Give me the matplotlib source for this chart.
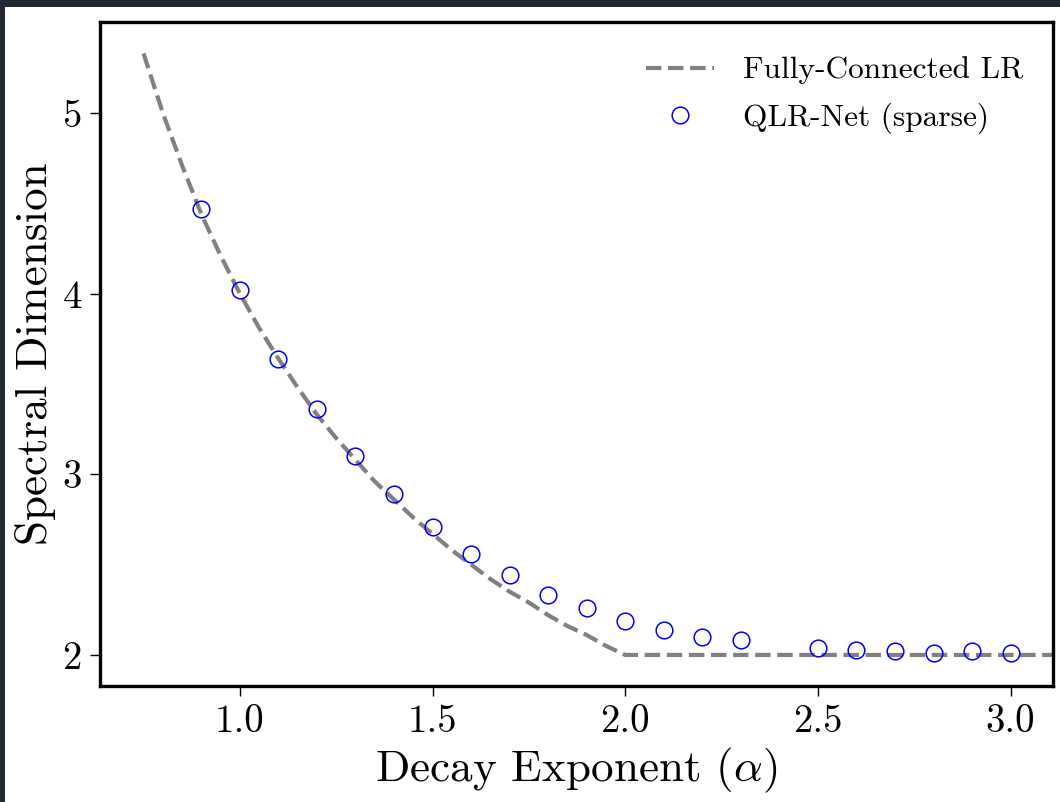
"""Spectral dimension vs. decay exponent: fully-connected long-range model and sparse QLR-Net."""

import matplotlib
matplotlib.use("Agg")
import matplotlib.pyplot as plt
from matplotlib.patches import Rectangle

# --- Fully-connected long-range curve ---
alpha_fc = [0.75, 0.80, 0.85, 0.90, 0.95, 1.00, 1.05, 1.10, 1.15, 1.20,
            1.25, 1.30, 1.35, 1.40, 1.45, 1.50, 1.55, 1.60, 1.65, 1.70,
            1.75, 1.80, 1.85, 1.90, 1.95, 2.00, 3.20]
ds_fc = [5.33, 5.00, 4.71, 4.44, 4.21, 4.00, 3.81, 3.64, 3.48, 3.33,
         3.20, 3.08, 2.96, 2.86, 2.76, 2.67, 2.58, 2.50, 2.42, 2.35,
         2.29, 2.22, 2.16, 2.11, 2.05, 2.00, 2.00]

# --- QLR-Net (sparse) measurements ---
alpha_qlr = [0.9, 1.0, 1.1, 1.2, 1.3, 1.4, 1.5, 1.6, 1.7, 1.8, 1.9,
             2.0, 2.1, 2.2, 2.3, 2.5, 2.6, 2.7, 2.8, 2.9, 3.0]
ds_qlr = [4.47, 4.02, 3.64, 3.36, 3.10, 2.89, 2.71, 2.56, 2.44, 2.33, 2.26,
          2.19, 2.14, 2.10, 2.08, 2.04, 2.03, 2.02, 2.01, 2.02, 2.01]

x_ticks = [1.0, 1.5, 2.0, 2.5, 3.0]
y_ticks = [2, 3, 4, 5]

plt.rcParams["font.family"] = "serif"
plt.rcParams["font.serif"] = ["cmr10"]
plt.rcParams["mathtext.fontset"] = "cm"
plt.rcParams["axes.formatter.use_mathtext"] = True

W, H = 1060, 802
fig = plt.figure(figsize=(W / 100, H / 100), dpi=100)
fig.patch.set_facecolor("white")

# dark page frame around the figure
dark = "#212935"
fig.patches.append(Rectangle((0, 1 - 7 / H), 1, 7 / H, transform=fig.transFigure,
                             facecolor=dark, edgecolor="none", zorder=-1))
fig.patches.append(Rectangle((0, 0), 5 / W, 1, transform=fig.transFigure,
                             facecolor=dark, edgecolor="none", zorder=-1))

ax = fig.add_axes([100 / W, (H - 686) / H, 953 / W, 664 / H])

ax.plot(alpha_fc, ds_fc, linestyle="--", color="gray", linewidth=3.0,
        label="Fully-Connected LR")
ax.plot(alpha_qlr, ds_qlr, linestyle="none", marker="o", markersize=12,
        markerfacecolor="none", markeredgecolor="blue", markeredgewidth=1.1,
        label="QLR-Net (sparse)")

ax.set_xlim(0.637, 3.11)
ax.set_ylim(1.828, 5.504)
ax.set_xticks(x_ticks)
ax.set_yticks(y_ticks)
ax.set_xticklabels([f"{t:.1f}" for t in x_ticks])
ax.set_yticklabels([str(t) for t in y_ticks])

ax.set_xlabel(r"Decay Exponent ($\alpha$)", fontsize=32.5, labelpad=4)
ax.set_ylabel("Spectral Dimension", fontsize=32.5, labelpad=5)
ax.tick_params(labelsize=28, length=7, width=1, pad=6)
for s in ax.spines.values():
    s.set_linewidth(2.4)

ax.legend(loc="upper right", bbox_to_anchor=(1.0 + 5 / 953, 1.0),
          frameon=False, fontsize=22.6, handlelength=2.15,
          handletextpad=0.95, borderaxespad=0.7, labelspacing=0.58)

fig.savefig("out.png", dpi=100)
